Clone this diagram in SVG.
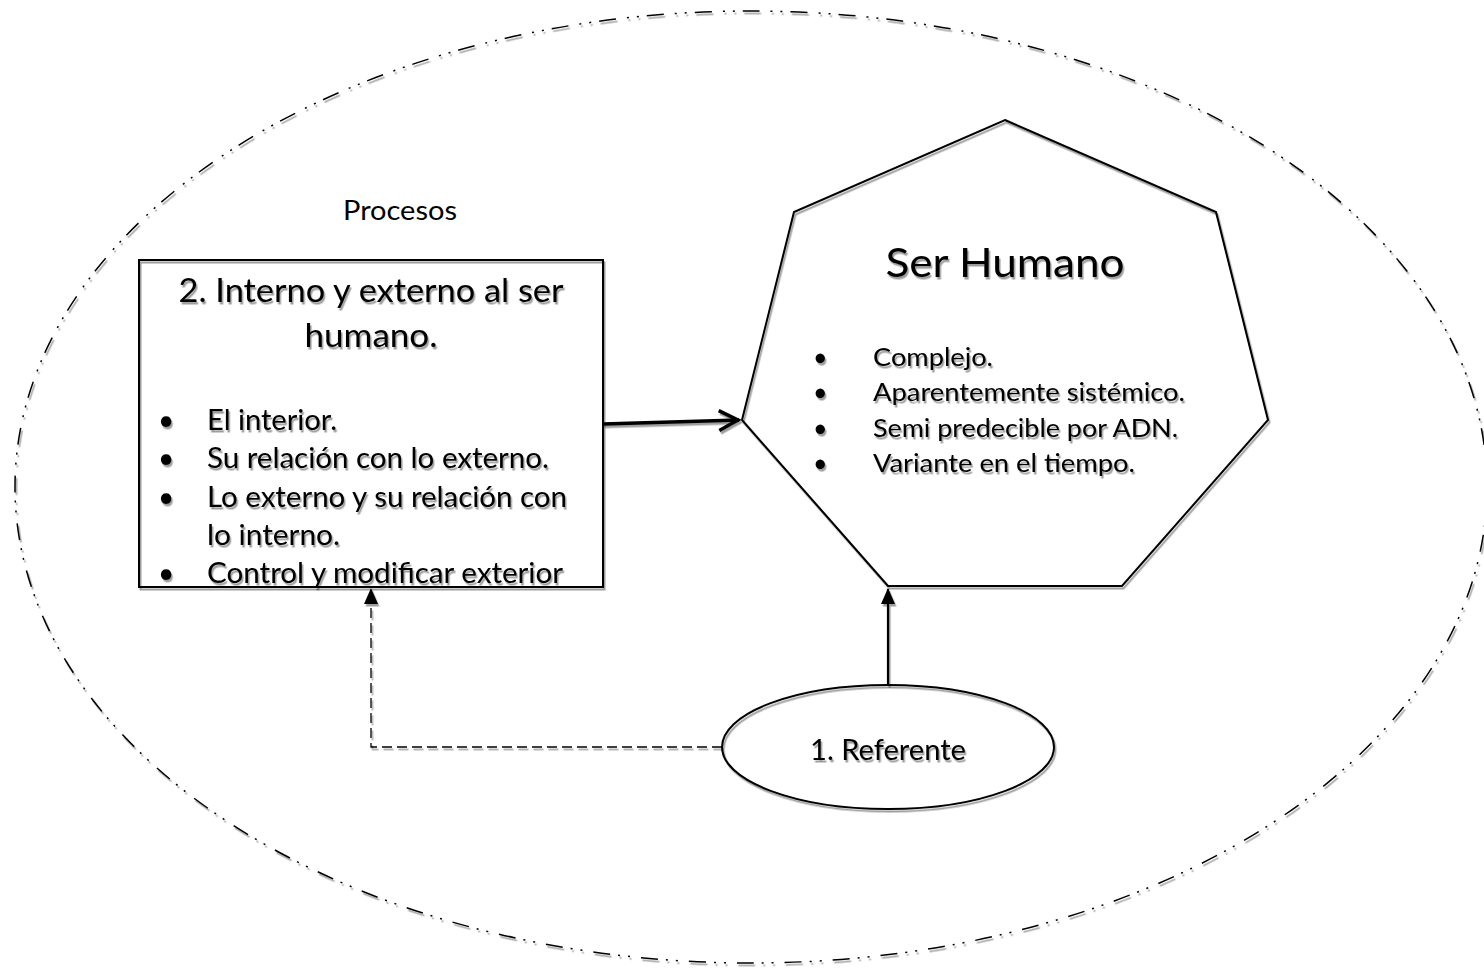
<svg xmlns="http://www.w3.org/2000/svg" width="1484" height="968" viewBox="0 0 1484 968">
<style>
  .t { font-family: Lato, "Open Sans", "Liberation Sans", sans-serif; fill: #000; }
  .sh { filter: url(#sh); }
  .ln { fill: none; stroke: #000; }
</style>
<defs>
  <filter id="sh" x="-5%" y="-5%" width="110%" height="110%">
    <feDropShadow dx="1.5" dy="2.5" stdDeviation="0.3" flood-color="#000" flood-opacity="0.38"/>
  </filter>
  <marker id="tri" viewBox="0 0 16 14" refX="15" refY="7" markerWidth="16" markerHeight="14" markerUnits="userSpaceOnUse" orient="auto">
    <path d="M0,0 L16,7 L0,14 Z" fill="#000"/>
  </marker>
  <marker id="chev" viewBox="0 0 24 26" refX="22" refY="13" markerWidth="24" markerHeight="26" markerUnits="userSpaceOnUse" orient="auto">
    <path d="M2,3 L21,13 L2,23" fill="none" stroke="#000" stroke-width="3.5"/>
  </marker>
</defs>
<rect width="1484" height="968" fill="#fff"/>

<g id="outer" class="sh">
  <ellipse cx="751" cy="487" rx="736" ry="476" class="ln" stroke-width="1.5" stroke-dasharray="17 11 2 8 2 8"/>
</g>

<g id="procesos">
  <text class="t" x="343" y="220" font-size="26" textLength="114" lengthAdjust="spacingAndGlyphs">Procesos</text>
</g>

<g id="connectors">
  <g class="sh">
    <line x1="603" y1="424" x2="739" y2="420" class="ln" stroke-width="3.5" marker-end="url(#chev)"/>
    <line x1="888" y1="685" x2="888" y2="589" class="ln" stroke-width="2.2" marker-end="url(#tri)"/>
    <polyline points="722,747 371,747 371,589" class="ln" stroke-width="1.3" stroke-dasharray="10 5" marker-end="url(#tri)"/>
  </g>
</g>

<g id="box2">
  <rect x="139" y="260" width="464" height="327" class="ln sh" stroke-width="2"/>
  <g class="sh">
    <text class="t" x="371" y="302" font-size="32" text-anchor="middle" textLength="385" lengthAdjust="spacingAndGlyphs">2. Interno y externo al ser</text>
    <text class="t" x="371" y="347" font-size="32" text-anchor="middle" textLength="133" lengthAdjust="spacingAndGlyphs">humano.</text>
    <text class="t" x="158" y="430" font-size="28">•</text>
    <text class="t" x="207" y="430" font-size="28" textLength="130" lengthAdjust="spacingAndGlyphs">El interior.</text>
    <text class="t" x="158" y="468" font-size="28">•</text>
    <text class="t" x="207" y="468" font-size="28" textLength="342" lengthAdjust="spacingAndGlyphs">Su relación con lo externo.</text>
    <text class="t" x="158" y="507" font-size="28">•</text>
    <text class="t" x="207" y="507" font-size="28" textLength="360" lengthAdjust="spacingAndGlyphs">Lo externo y su relación con</text>
    <text class="t" x="207" y="545" font-size="28" textLength="133" lengthAdjust="spacingAndGlyphs">lo interno.</text>
    <text class="t" x="158" y="583" font-size="28">•</text>
    <text class="t" x="207" y="583" font-size="28" textLength="356" lengthAdjust="spacingAndGlyphs">Control y modificar exterior</text>
  </g>
</g>

<g id="serhumano">
  <polygon points="1005,120 1216,212 1268,420 1122,586 888,586 742,420 794,212" class="ln sh" stroke-width="2"/>
  <g class="sh">
    <text class="t" x="1005" y="277" font-size="40" text-anchor="middle" textLength="239" lengthAdjust="spacingAndGlyphs">Ser Humano</text>
    <text class="t" x="813" y="366" font-size="25">•</text>
    <text class="t" x="873" y="366" font-size="25" textLength="120" lengthAdjust="spacingAndGlyphs">Complejo.</text>
    <text class="t" x="813" y="401" font-size="25">•</text>
    <text class="t" x="873" y="401" font-size="25" textLength="312" lengthAdjust="spacingAndGlyphs">Aparentemente sistémico.</text>
    <text class="t" x="813" y="437" font-size="25">•</text>
    <text class="t" x="873" y="437" font-size="25" textLength="305" lengthAdjust="spacingAndGlyphs">Semi predecible por ADN.</text>
    <text class="t" x="813" y="472" font-size="25">•</text>
    <text class="t" x="873" y="472" font-size="25" textLength="262" lengthAdjust="spacingAndGlyphs">Variante en el tiempo.</text>
  </g>
</g>

<g id="referente">
  <ellipse cx="888" cy="747" rx="166" ry="62" class="ln sh" stroke-width="2"/>
  <text class="t sh" x="888" y="760" font-size="28" text-anchor="middle" textLength="156" lengthAdjust="spacingAndGlyphs">1. Referente</text>
</g>
</svg>
